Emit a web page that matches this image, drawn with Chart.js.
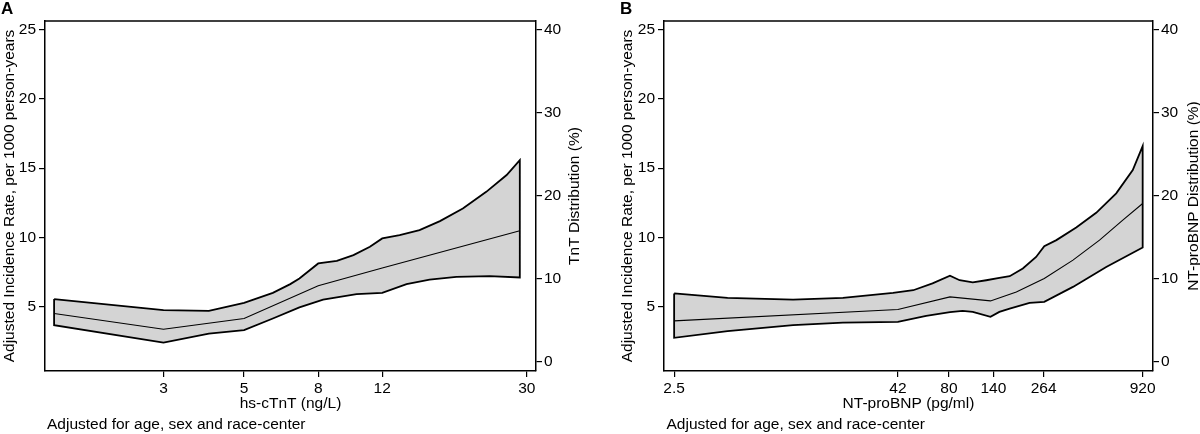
<!DOCTYPE html>
<html>
<head>
<meta charset="utf-8">
<script src="https://cdn.jsdelivr.net/npm/chart.js@4/dist/chart.umd.min.js"></script>
<style>
  body { margin: 0; background: #fff; }
  .panel { position: absolute; top: 0; width: 600px; height: 434px; }
</style>
</head>
<body>
<div class="panel" style="left:0"><canvas id="chartA" width="600" height="434"></canvas></div>
<div class="panel" style="left:600px"><canvas id="chartB" width="600" height="434"></canvas></div>
<script>
const FONT = "'Liberation Sans', Arial, Helvetica, sans-serif";
Chart.defaults.font.family = FONT;
Chart.defaults.font.size = 15.5;
Chart.defaults.color = '#000';

// shared y axes (right axis is the distribution scale, no marks on it)
const rateTicks = [5, 10, 15, 20, 25];
const distTicks = [0, 10, 20, 30, 40];

// panel A - hs-cTnT, [x, rate]
const tntTicks = [3, 5, 8, 12, 30];
const tntMid = [[1.5, 4.52], [3, 3.39], [5, 4.16], [8, 6.52], [12, 7.8], [28.7, 10.48]];
const tntUpper = [[1.5, 5.56], [3, 4.76], [4, 4.71], [5, 5.29], [6, 6.01], [6.7, 6.64], [7.1, 7.05],
  [8, 8.13], [9, 8.32], [10, 8.73], [11.1, 9.33], [12, 9.93], [13.4, 10.17], [15.2, 10.53],
  [17.3, 11.18], [20, 12.09], [23.2, 13.29], [26.4, 14.5], [28.7, 15.58]];
const tntLower = [[1.5, 3.68], [3, 2.43], [4, 3.08], [5, 3.32], [6, 4.16], [7.1, 4.96], [8.25, 5.53],
  [10.2, 5.92], [12, 6.01], [14, 6.64], [16.2, 6.97], [19.2, 7.16], [23.7, 7.21], [28.7, 7.12]];

// panel B - NT-proBNP
const bnpTicks = [2.5, 42, 80, 140, 264, 920];
const bnpMid = [[2.5, 3.99], [42, 4.81], [81, 5.72], [135, 5.43], [187, 6.08], [266, 7.05],
  [382, 8.37], [534, 9.81], [716, 11.25], [920, 12.45]];
const bnpUpper = [[2.5, 5.97], [4.9, 5.65], [11.2, 5.53], [21, 5.65], [39.5, 6.01], [51, 6.2],
  [65, 6.69], [81, 7.24], [91.5, 6.92], [108, 6.76], [128, 6.92], [151, 7.09], [172, 7.21],
  [203, 7.77], [240, 8.6], [266, 9.38], [310, 9.81], [398, 10.72], [512, 11.78], [659, 13.18],
  [812, 14.86], [920, 16.59]];
const bnpLower = [[2.5, 2.77], [4.9, 3.25], [11.2, 3.68], [21, 3.87], [42, 3.92], [60, 4.35],
  [81, 4.62], [95, 4.71], [108, 4.64], [135, 4.28], [151, 4.64], [172, 4.88], [221, 5.29],
  [266, 5.36], [382, 6.44], [581, 7.88], [920, 9.28]];

const toXY = arr => arr.map(p => ({x: p[0], y: p[1]}));

// closed band: upper left->right, lower right->left, back to start
function band(upper, lower) {
  return toXY(upper.concat(lower.slice().reverse(), [upper[0]]));
}

const panelExtras = {
  id: 'panelExtras',
  afterDraw(chart, args, opts) {
    const {ctx, chartArea: {top, bottom, left, right}} = chart;
    ctx.save();
    ctx.strokeStyle = '#000';
    ctx.lineWidth = 1.5;
    ctx.beginPath();
    ctx.moveTo(left, top);
    ctx.lineTo(right, top);
    ctx.stroke();

    ctx.fillStyle = '#000';
    ctx.textAlign = 'left';
    ctx.textBaseline = 'middle';
    ctx.font = 'bold 17px ' + FONT;
    ctx.fillText(opts.letter, opts.letterX, 9);
    ctx.font = '15.5px ' + FONT;
    ctx.fillText(opts.caption, opts.captionX, 425);

    ctx.translate(opts.rightTitleX, (top + bottom) / 2);
    ctx.rotate(-Math.PI / 2);
    ctx.textAlign = 'center';
    ctx.fillText(opts.rightTitle, 0, 0);
    ctx.restore();
  }
};

function axisGrid() {
  return {drawOnChartArea: false, drawTicks: true, tickLength: 6, color: '#000', lineWidth: 1.2};
}

function makePanel(id, p) {
  return new Chart(document.getElementById(id), {
    type: 'line',
    data: {
      datasets: [{
        data: toXY(p.mid),
        borderColor: '#000',
        borderWidth: 1.1,
        pointRadius: 0,
        fill: false,
        order: 0
      }, {
        data: band(p.upper, p.lower),
        borderColor: '#000',
        borderWidth: 1.8,
        backgroundColor: '#d4d4d4',
        pointRadius: 0,
        fill: 'shape',
        order: 1
      }]
    },
    options: {
      responsive: false,
      animation: false,
      layout: {padding: {top: 21, left: 0, right: 0, bottom: 0}},
      plugins: {
        legend: {display: false},
        tooltip: {enabled: false},
        panelExtras: p.extras
      },
      scales: {
        x: {
          type: 'logarithmic',
          min: p.xMin, max: p.xMax,
          bounds: 'data',
          afterBuildTicks: s => { s.ticks = p.xTicks.map(v => ({value: v})); },
          afterFit: s => { s.height = 63; },
          grid: axisGrid(),
          border: {display: true, color: '#000', width: 1.5},
          ticks: {autoSkip: false, maxRotation: 0, padding: 2, callback: v => String(v)},
          title: {display: true, text: p.xTitle, padding: {top: 0, bottom: 21}}
        },
        y: {
          position: 'left',
          min: 0.38, max: 25.6,
          bounds: 'data',
          afterBuildTicks: s => { s.ticks = rateTicks.map(v => ({value: v})); },
          afterFit: s => { s.width = p.leftW; },
          grid: axisGrid(),
          border: {display: true, color: '#000', width: 1.5},
          ticks: {padding: 3},
          title: {display: true, text: 'Adjusted Incidence Rate, per 1000 person-years',
                  padding: {top: p.leftTitlePad, bottom: 0}}
        },
        y2: {
          position: 'right',
          min: -1.08, max: 41,
          bounds: 'data',
          afterBuildTicks: s => { s.ticks = distTicks.map(v => ({value: v})); },
          afterFit: s => { s.width = p.rightW; },
          grid: axisGrid(),
          border: {display: true, color: '#000', width: 1.5},
          ticks: {padding: 2}
        }
      }
    },
    plugins: [panelExtras]
  });
}

makePanel('chartA', {
  mid: tntMid, upper: tntUpper, lower: tntLower,
  xTicks: tntTicks, xMin: 1.416, xMax: 31.8,
  xTitle: 'hs-cTnT (ng/L)',
  leftW: 45, rightW: 64, leftTitlePad: 0,
  extras: {letter: 'A', letterX: 1, caption: 'Adjusted for age, sex and race-center', captionX: 47,
           rightTitle: 'TnT Distribution (%)', rightTitleX: 575}
});

makePanel('chartB', {
  mid: bnpMid, upper: bnpUpper, lower: bnpLower,
  xTicks: bnpTicks, xMin: 2.2, xMax: 1048,
  xTitle: 'NT-proBNP (pg/ml)',
  leftW: 64, rightW: 47, leftTitlePad: 18,
  extras: {letter: 'B', letterX: 20, caption: 'Adjusted for age, sex and race-center', captionX: 66.5,
           rightTitle: 'NT-proBNP Distribution (%)', rightTitleX: 594}
});
</script>
</body>
</html>
